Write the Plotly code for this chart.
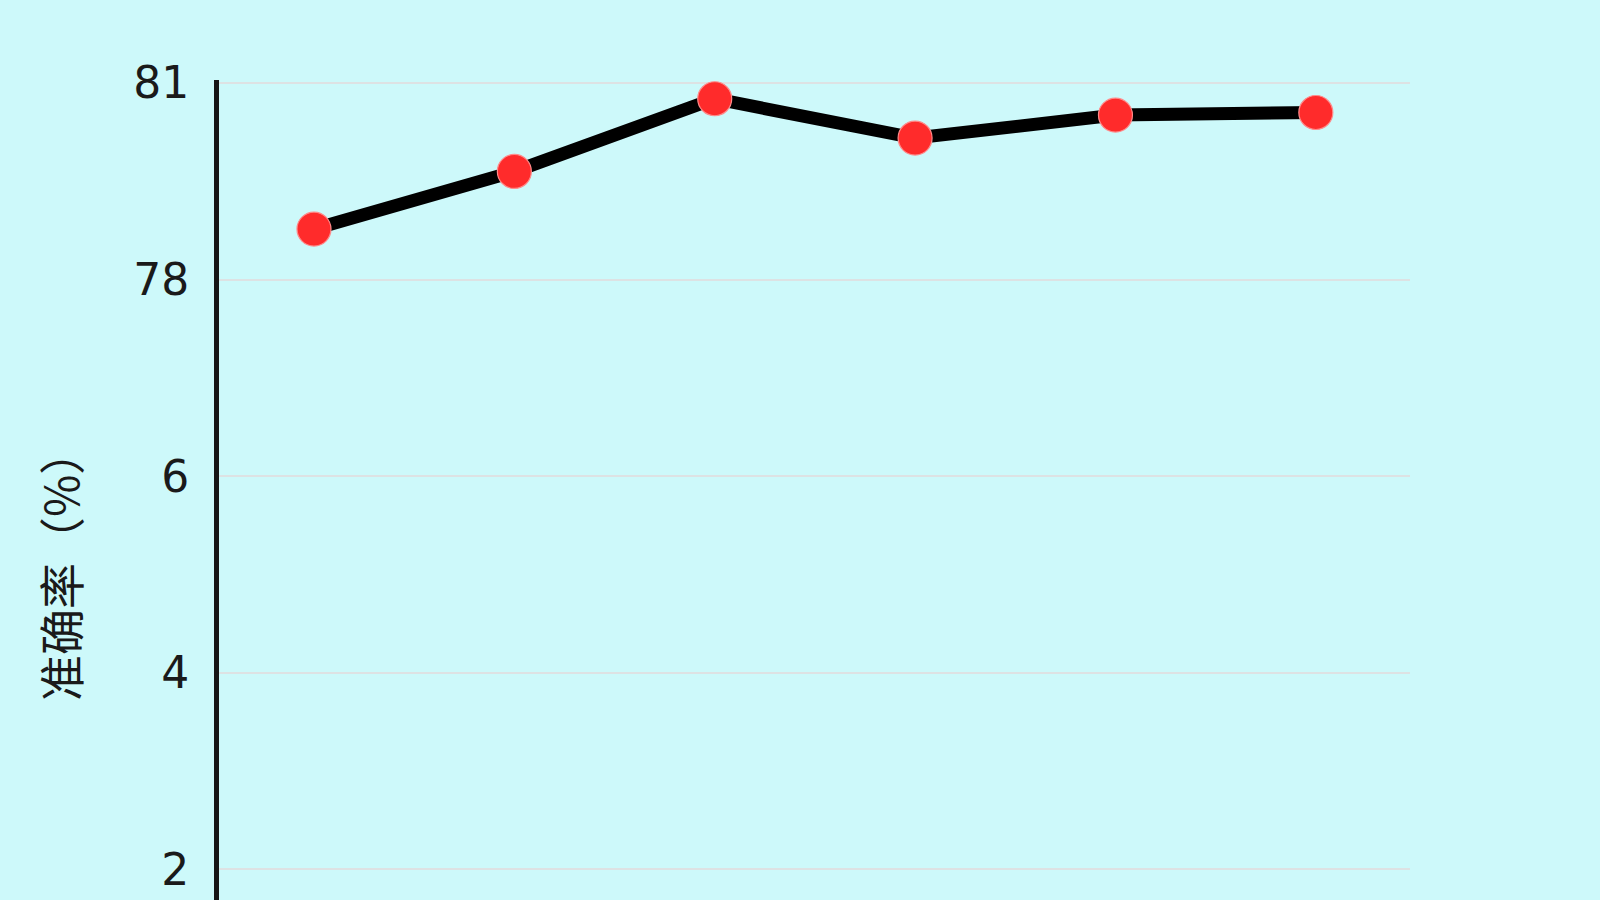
import plotly.graph_objects as go

# Data
categories = ["1", "2", "3", "4", "5", "6"]
accuracy = [78.77, 79.65, 80.76, 80.16, 80.51, 80.55]

# Y ticks (as printed on the reference)
y_tickvals = [81, 78, 75, 72, 69]
y_ticktext = ["81", "78", "6", "4", "2"]

y_title = "准确率（%）"

BG = "#CDF9FA"
FONT = "DejaVu Sans, Noto Sans CJK SC, sans-serif"

fig = go.Figure()
fig.add_trace(go.Scatter(
    x=list(range(len(categories))),
    y=accuracy,
    mode="lines+markers",
    line=dict(color="#000000", width=13),
    marker=dict(size=34, color="#FF2B2B", line=dict(color="#FF8A8A", width=1.2)),
    showlegend=False,
    hoverinfo="skip",
))

fig.update_layout(
    width=1600,
    height=900,
    paper_bgcolor=BG,
    plot_bgcolor=BG,
    margin=dict(l=219, r=190, t=80, b=0),
    font=dict(family=FONT, color="#1a1a1a"),
    xaxis=dict(
        range=[-0.474, 5.47],
        tickvals=list(range(len(categories))),
        ticktext=categories,
        showticklabels=False,
        showgrid=False,
        zeroline=False,
        showline=False,
    ),
    yaxis=dict(
        range=[68.53, 81.046],
        tickvals=y_tickvals,
        ticktext=y_ticktext,
        tickfont=dict(size=44, family=FONT, color="#1a1a1a"),
        ticks="",
        ticklabelstandoff=16,
        showgrid=True,
        gridcolor="#DDE2E3",
        gridwidth=1.5,
        zeroline=False,
        showline=True,
        linecolor="#151515",
        linewidth=5,
    ),
    annotations=[dict(
        text=y_title,
        xref="paper", yref="paper",
        x=(59 - 219) / 1191, y=(900 - 565) / 820,
        xanchor="center", yanchor="middle",
        textangle=-90,
        showarrow=False,
        font=dict(size=46, family="Noto Sans CJK SC, DejaVu Sans", color="#1a1a1a"),
    )],
)

fig.write_html(
    "out.html",
    config={"displayModeBar": False},
    post_script="document.body.style.margin='0';document.body.style.padding='0';document.body.style.background='" + BG + "';",
)
